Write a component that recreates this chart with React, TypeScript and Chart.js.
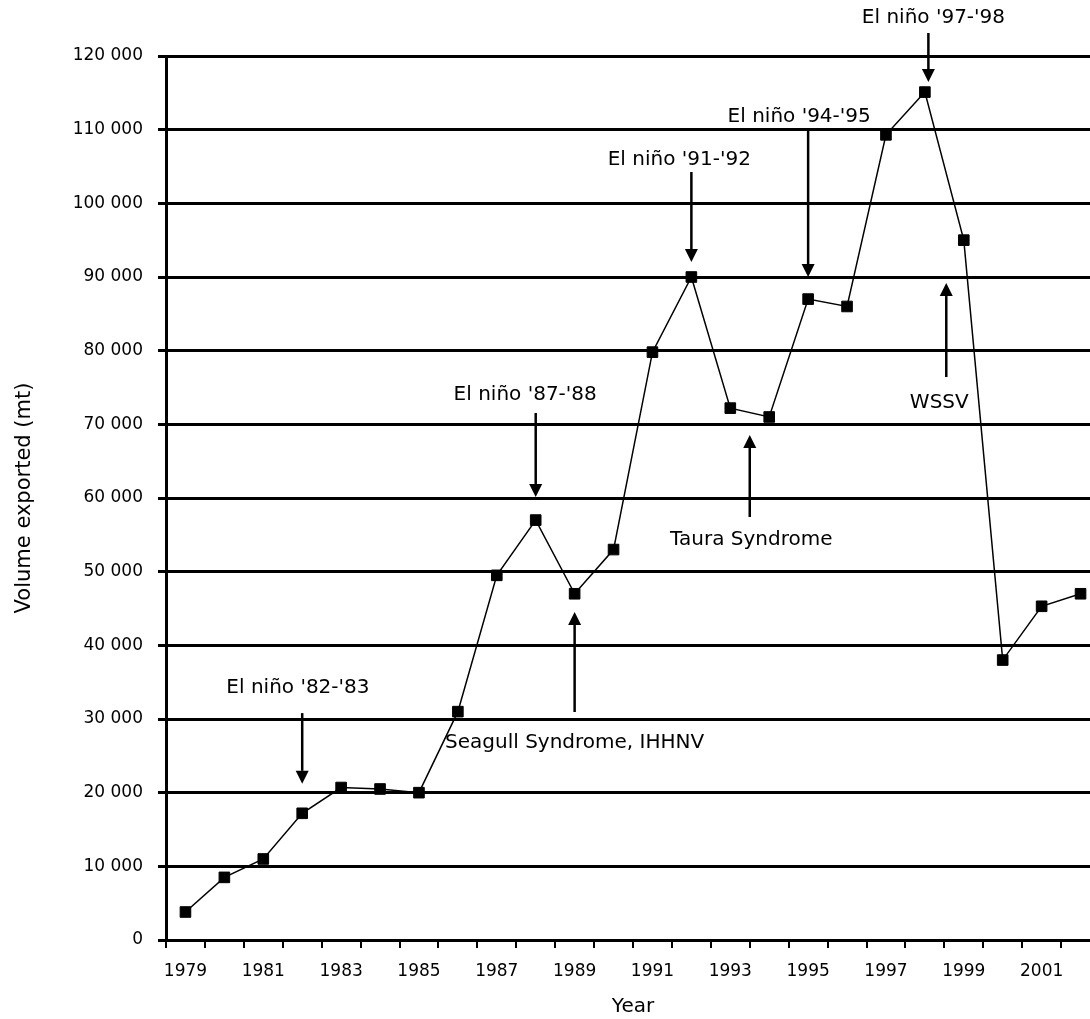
import React, { useEffect, useRef } from 'react';
import { Chart, registerables } from 'chart.js';

Chart.register(...registerables);

const years = [
  '1979', '1980', '1981', '1982', '1983', '1984', '1985', '1986', '1987', '1988', '1989', '1990',
  '1991', '1992', '1993', '1994', '1995', '1996', '1997', '1998', '1999', '2000', '2001', '2002',
];

const volumes = [
  3800, 8500, 11000, 17200, 20700, 20500, 20000, 31000, 49500, 57000, 47000, 53000,
  79800, 90000, 72200, 71000, 87000, 86000, 109300, 115100, 95000, 38000, 45300, 47000,
];

const annotationTexts = [
  "El niño '82-'83",
  "El niño '87-'88",
  'Seagull Syndrome, IHHNV',
  "El niño '91-'92",
  'Taura Syndrome',
  "El niño '94-'95",
  "El niño '97-'98",
  'WSSV',
];
// anchor positions in data space (category index, volume)
const annotationTextIndex = [2.89, 8.73, 10, 12.69, 14.54, 15.77, 19.22, 19.37];
const annotationTextValue = [34200, 74000, 26740, 105880, 54300, 111700, 125150, 72900];
const arrowIndex = [3, 9, 10, 13, 14.5, 16, 19.09, 19.55];
const arrowFromValue = [30800, 71540, 30950, 104250, 57420, 109950, 123120, 76420];
const arrowTipValue = [21200, 60140, 44520, 92030, 68550, 90000, 116470, 89180];

const FONT = '"DejaVu Sans", sans-serif';

const formatThousands = (v: number) =>
  String(v).replace(/\B(?=(\d{3})+(?!\d))/g, ' ');

const annotationPlugin = {
  id: 'eventAnnotations',
  afterDatasetsDraw(chart: any) {
    const { ctx, scales } = chart;
    const x = scales.x;
    const y = scales.y;
    ctx.save();
    ctx.fillStyle = '#000';
    ctx.strokeStyle = '#000';
    ctx.font = `20px ${FONT}`;
    ctx.textAlign = 'center';
    ctx.textBaseline = 'middle';
    annotationTexts.forEach((t, i) => {
      ctx.fillText(
        t,
        x.getPixelForValue(annotationTextIndex[i]),
        y.getPixelForValue(annotationTextValue[i])
      );
      const ax = x.getPixelForValue(arrowIndex[i]);
      const y0 = y.getPixelForValue(arrowFromValue[i]);
      const y1 = y.getPixelForValue(arrowTipValue[i]);
      const dir = y1 > y0 ? 1 : -1;
      const head = 13;
      const halfW = 6.5;
      ctx.lineWidth = 2.5;
      ctx.beginPath();
      ctx.moveTo(ax, y0);
      ctx.lineTo(ax, y1 - dir * head);
      ctx.stroke();
      ctx.beginPath();
      ctx.moveTo(ax - halfW, y1 - dir * head);
      ctx.lineTo(ax + halfW, y1 - dir * head);
      ctx.lineTo(ax, y1);
      ctx.closePath();
      ctx.fill();
    });
    ctx.restore();
  },
};

export default function App() {
  const ref = useRef<HTMLCanvasElement>(null);

  useEffect(() => {
    if (!ref.current) return;
    const chart = new Chart(ref.current, {
      type: 'line',
      data: {
        labels: years,
        datasets: [
          {
            data: volumes,
            borderColor: '#000',
            borderWidth: 1.5,
            backgroundColor: '#000',
            pointStyle: 'rect',
            pointRadius: 7.5,
            pointBackgroundColor: '#000',
            pointBorderColor: '#000',
            pointBorderWidth: 1,
            tension: 0,
            fill: false,
          },
        ],
      },
      options: {
        responsive: false,
        animation: false,
        devicePixelRatio: 1,
        layout: { padding: { top: 56, right: 10, left: 0, bottom: 0 } },
        plugins: {
          legend: { display: false },
          tooltip: { enabled: false },
        },
        scales: {
          x: {
            type: 'category',
            offset: true,
            grid: {
              display: true,
              drawOnChartArea: false,
              drawTicks: true,
              tickLength: 8,
              offset: true,
              color: '#000',
              lineWidth: 2,
            },
            border: { display: true, color: '#000', width: 3 },
            ticks: {
              autoSkip: false,
              maxRotation: 0,
              minRotation: 0,
              color: '#000',
              padding: 13,
              font: { family: FONT, size: 17 },
              callback: (_v: any, i: number) => (i % 2 === 0 ? years[i] : ''),
            },
            title: {
              display: true,
              text: 'Year',
              color: '#000',
              font: { family: FONT, size: 20 },
              padding: { top: 0, bottom: 0 },
            },
            afterFit: (s: any) => {
              s.height = 79;
            },
          },
          y: {
            min: 0,
            max: 120000,
            grid: { color: '#000', lineWidth: 3, tickLength: 8, drawTicks: true },
            border: { display: true, color: '#000', width: 3 },
            ticks: {
              stepSize: 10000,
              color: '#000',
              padding: 15,
              font: { family: FONT, size: 17 },
              callback: (v: any) => formatThousands(Number(v)),
            },
            title: {
              display: true,
              text: 'Volume exported (mt)',
              color: '#000',
              font: { family: FONT, size: 21 },
              padding: { top: 12, bottom: 0 },
            },
            afterFit: (s: any) => {
              s.width = 166;
            },
          },
        },
      },
      plugins: [annotationPlugin],
    });
    return () => chart.destroy();
  }, []);

  return (
    <div
      style={{
        position: 'fixed',
        left: 0,
        top: 0,
        width: 1090,
        height: 1019,
        overflow: 'hidden',
        background: '#fff',
      }}
    >
      <canvas ref={ref} width={1110} height={1019} style={{ display: 'block' }} />
    </div>
  );
}
